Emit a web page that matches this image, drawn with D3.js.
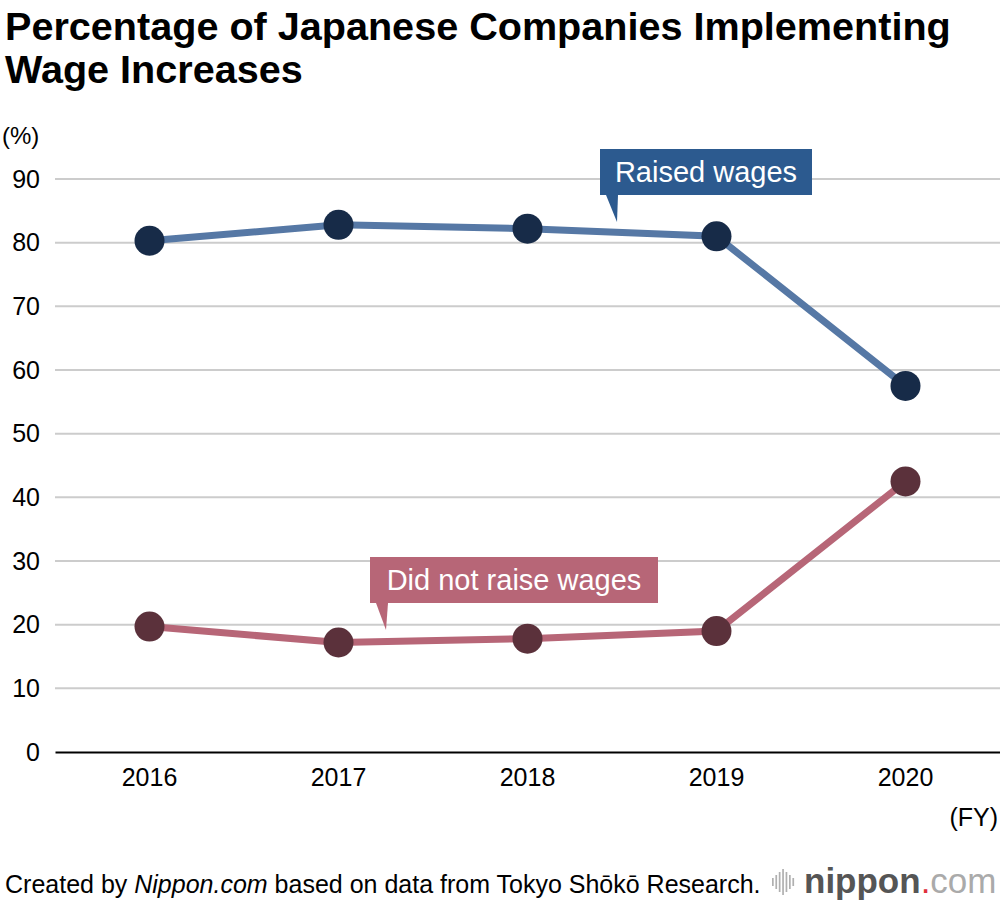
<!DOCTYPE html>
<html>
<head>
<meta charset="utf-8">
<script src="https://cdn.jsdelivr.net/npm/d3@7"></script>
<style>
  body { margin: 0; background: #fff; }
  text { font-family: "Liberation Sans", Arial, sans-serif; }
</style>
</head>
<body>
<div class="canvas"></div>
<script>
const years = ["2016", "2017", "2018", "2019", "2020"];
const raised = [80.3, 82.8, 82.2, 81.0, 57.5];
const notRaised = [19.7, 17.2, 17.8, 19.0, 42.5];
const yTicks = [0, 10, 20, 30, 40, 50, 60, 70, 80, 90];

const width = 1000, height = 902;
const margin = { top: 179, right: 0, bottom: 150, left: 55 };

const svg = d3.select(".canvas").append("svg")
  .attr("width", width)
  .attr("height", height);

// title
const title = svg.append("text")
  .attr("font-size", 39.6).attr("font-weight", "bold").attr("fill", "#000");
title.append("tspan").attr("x", 5).attr("y", 40).text("Percentage of Japanese Companies Implementing");
title.append("tspan").attr("x", 5).attr("y", 83).text("Wage Increases");

//scales
const x = d3.scaleBand().domain(years).range([margin.left, width - margin.right]);
const y = d3.scaleLinear().domain([0, 90]).range([752, 179]);

// gridlines
svg.append("g")
  .selectAll("line")
  .data(yTicks.filter(d => d > 0))
  .enter().append("line")
  .attr("x1", margin.left).attr("x2", width)
  .attr("y1", d => y(d)).attr("y2", d => y(d))
  .attr("stroke", "#cccccc").attr("stroke-width", 2);

// y axis labels
const yAxis = d3.axisLeft(y).tickValues(yTicks).tickSize(0).tickPadding(0);
const yAxisGroup = svg.append("g").attr("transform", "translate(40,0)").call(yAxis);
yAxisGroup.select(".domain").remove();
yAxisGroup.selectAll("text")
  .attr("font-size", 25).attr("fill", "#000")
  .attr("font-family", "Liberation Sans, Arial, sans-serif");

svg.append("text").attr("x", 2).attr("y", 144)
  .attr("font-size", 24).text("(%)");

// x axis
const xAxis = d3.axisBottom(x).tickSize(0).tickPadding(16);
const xAxisGroup = svg.append("g").attr("transform", `translate(0, ${y(0)})`).call(xAxis);
xAxisGroup.select(".domain").attr("stroke", "#000").attr("stroke-width", 2);
xAxisGroup.selectAll("text")
  .attr("font-size", 25).attr("fill", "#000")
  .attr("font-family", "Liberation Sans, Arial, sans-serif");

svg.append("text").attr("x", 998).attr("y", 826)
  .attr("text-anchor", "end").attr("font-size", 25).text("(FY)");

const cx = (d, i) => x(years[i]) + x.bandwidth() / 2;
const line = d3.line().x((d, i) => cx(d, i)).y(d => y(d));

const series = [
  { values: raised, lineColor: "#5678a5", dotColor: "#172b48" },
  { values: notRaised, lineColor: "#b76677", dotColor: "#5b313b" }
];

series.forEach(s => {
  svg.append("path")
    .datum(s.values)
    .attr("fill", "none")
    .attr("stroke", s.lineColor)
    .attr("stroke-width", 7)
    .attr("d", line);

  svg.append("g")
    .selectAll("circle")
    .data(s.values)
    .enter().append("circle")
    .attr("cx", cx)
    .attr("cy", d => y(d))
    .attr("r", 15)
    .attr("fill", s.dotColor);
});

// callouts
function callout(label, bx, by, bw, bh, tipX, tipY, color) {
  const g = svg.append("g");
  g.append("rect").attr("x", bx).attr("y", by).attr("width", bw).attr("height", bh).attr("fill", color);
  g.append("path")
    .attr("d", `M${bx + 6},${by + bh} L${tipX},${tipY} L${bx + 18},${by + bh} Z`)
    .attr("fill", color);
  g.append("text")
    .attr("x", bx + bw / 2).attr("y", by + bh / 2 + 10)
    .attr("text-anchor", "middle")
    .attr("font-size", 29).attr("fill", "#fff")
    .text(label);
}
callout("Raised wages", 600, 149, 212, 46, 617, 222, "#2c5a8f");
callout("Did not raise wages", 370, 557, 288, 46, 386, 630, "#b76677");

// footer
const foot = svg.append("text").attr("x", 5).attr("y", 893).attr("font-size", 25).attr("fill", "#000");
foot.append("tspan").text("Created by ");
foot.append("tspan").attr("font-style", "italic").text("Nippon.com");
foot.append("tspan").text(" based on data from Tokyo Shōkō Research.");

// logo
const logo = svg.append("g");
const bars = [8, 14, 20, 26, 20, 14, 8];
logo.selectAll("rect")
  .data(bars)
  .enter().append("rect")
  .attr("x", (d, i) => 772 + i * 3.4)
  .attr("y", d => 882 - d / 2)
  .attr("width", 1.7)
  .attr("height", d => d)
  .attr("fill", "#b0b0b0");
const lt = logo.append("text").attr("x", 804).attr("y", 893).attr("font-size", 35);
lt.append("tspan").attr("fill", "#555").attr("font-weight", "bold").text("nippon");
lt.append("tspan").attr("fill", "#e0303c").text(".");
lt.append("tspan").attr("fill", "#aaa").text("com");
</script>
</body>
</html>
